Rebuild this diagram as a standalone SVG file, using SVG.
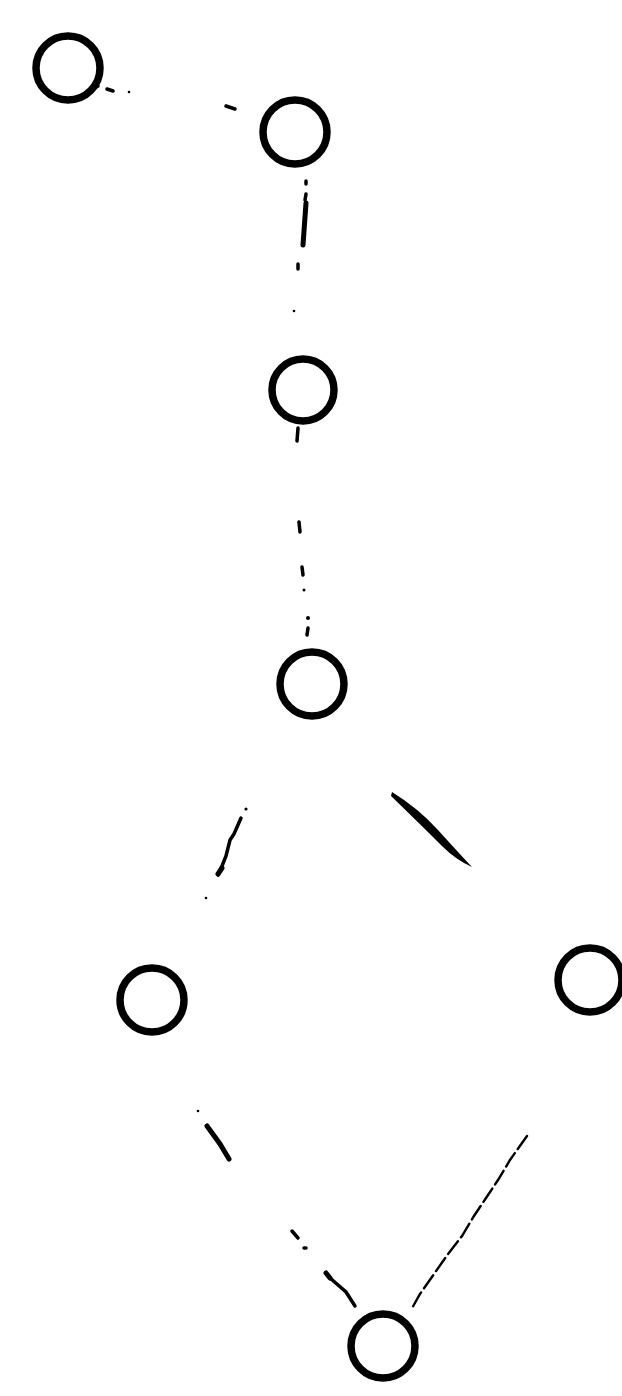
<svg xmlns="http://www.w3.org/2000/svg" width="622" height="1396" viewBox="0 0 622 1396">
<style>
.node{fill:none;stroke:#000;stroke-width:7.5}
.e{stroke:#000;fill:none;stroke-linecap:round}
.t{stroke-width:2.4}
.m{stroke-width:3.5}
.k{stroke-width:5}
.d{fill:#000}
</style>
<rect width="622" height="1396" fill="#fff"/>
<g id="connectors">
<g id="e1-2">
<line class="e m" x1="95" y1="87" x2="98" y2="86"/>
<line class="e m" x1="107" y1="89" x2="113" y2="91"/>
<circle class="d" cx="129" cy="92" r="1.3"/>
<line class="e m" x1="226" y1="106" x2="235" y2="109"/>
</g>
<g id="e2-3">
<line class="e m" x1="306" y1="181" x2="306" y2="184"/>
<line class="e m" x1="306" y1="194" x2="305" y2="200"/>
<line class="e k" x1="306" y1="203" x2="303" y2="245"/>
<line class="e m" x1="298" y1="264" x2="298" y2="269"/>
<circle class="d" cx="294" cy="311" r="1.3"/>
</g>
<g id="e3-4">
<line class="e m" x1="298" y1="428" x2="297" y2="441"/>
<line class="e m" x1="299" y1="522" x2="300" y2="532"/>
<line class="e m" x1="302" y1="567" x2="303" y2="575"/>
<circle class="d" cx="304" cy="590" r="1.5"/>
<circle class="d" cx="308" cy="618" r="2"/>
<line class="e m" x1="308" y1="628" x2="307" y2="635"/>
</g>
<g id="e4-5">
<circle class="d" cx="246" cy="809" r="1.6"/>
<path class="e m" d="M241 818 L234 834 L230 840 L226 856 L222 866 L218 875"/>
<line class="e k" x1="222" y1="868" x2="218" y2="874"/>
<circle class="d" cx="206" cy="898" r="1.3"/>
</g>
<g id="e4-6">
<path class="d" d="M392 792 Q418 808 438 830 Q456 850 472 867 Q456 860 442 846 Q420 824 391 796 Z"/>
</g>
<g id="e5-7">
<circle class="d" cx="198" cy="1111" r="1.3"/>
<path class="e k" d="M207 1126 L220 1144 L229 1159"/>
<line class="e m" x1="292" y1="1231" x2="298" y2="1238"/>
<line class="e m" x1="304" y1="1248" x2="306" y2="1248"/>
<line class="e k" x1="326" y1="1273" x2="330" y2="1278"/>
<path class="e m" d="M330 1278 L346 1292 L355 1306"/>
</g>
<g id="e6-7">
<path class="e t" d="M527 1136 L510 1160 L498 1180 L486 1198 L474 1216 L462 1236 L448 1254 L434 1274 L420 1294 L411 1310" stroke-dasharray="16 5"/>
</g>
</g>
<g id="n1"><circle class="node" cx="68" cy="68" r="32"/></g>
<g id="n2"><circle class="node" cx="295" cy="132" r="32"/></g>
<g id="n3"><circle class="node" cx="303" cy="390" r="31"/></g>
<g id="n4"><circle class="node" cx="312" cy="684" r="32"/></g>
<g id="n5"><circle class="node" cx="152" cy="1000" r="32"/></g>
<g id="n6"><circle class="node" cx="590" cy="980" r="32"/></g>
<g id="n7"><circle class="node" cx="383" cy="1346" r="32"/></g>
</svg>
